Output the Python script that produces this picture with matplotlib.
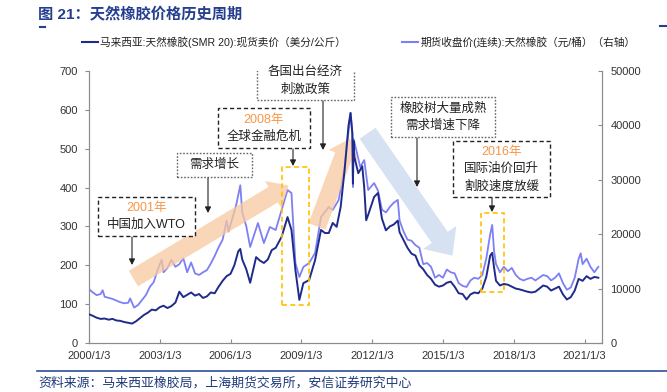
import matplotlib
matplotlib.use("Agg")
import matplotlib.pyplot as plt
import matplotlib.dates as mdates
from matplotlib.patches import Rectangle
from matplotlib.lines import Line2D
import pandas as pd

plt.rcParams['font.family'] = ['Liberation Sans', 'Noto Sans CJK SC', 'DejaVu Sans']

# ---------------- data ----------------
smr_dates = ["2000-01-03", "2000-03", "2000-05", "2000-07", "2000-09", "2000-11",
             "2001-01", "2001-03", "2001-05", "2001-07", "2001-09", "2001-11",
             "2002-01", "2002-03", "2002-05", "2002-07", "2002-09", "2002-11",
             "2003-01", "2003-03", "2003-05", "2003-07", "2003-09", "2003-11",
             "2004-01", "2004-03", "2004-05", "2004-07", "2004-09", "2004-11",
             "2005-01", "2005-03", "2005-05", "2005-07", "2005-09", "2005-11",
             "2006-01", "2006-03", "2006-05", "2006-06", "2006-07", "2006-09", "2006-11",
             "2007-02", "2007-04", "2007-06", "2007-08", "2007-10", "2007-12",
             "2008-03", "2008-06", "2008-08", "2008-10", "2008-12",
             "2009-02", "2009-05", "2009-08", "2009-11", "2010-01", "2010-03",
             "2010-05", "2010-07", "2010-09", "2010-11", "2011-01", "2011-02",
             "2011-03-01", "2011-03-10", "2011-03-20", "2011-04", "2011-06", "2011-08",
             "2011-09", "2011-10", "2011-11", "2012-02", "2012-04", "2012-06",
             "2012-08", "2012-10", "2012-12", "2013-02", "2013-03", "2013-05", "2013-07",
             "2013-09", "2013-11", "2014-01", "2014-03", "2014-05", "2014-07", "2014-09",
             "2014-11", "2015-01", "2015-03", "2015-05", "2015-07", "2015-09", "2015-11",
             "2016-01", "2016-03", "2016-05", "2016-07", "2016-09", "2016-11", "2017-01",
             "2017-02", "2017-03", "2017-04", "2017-06", "2017-08", "2017-10", "2017-12",
             "2018-02", "2018-04", "2018-06", "2018-08", "2018-10", "2018-12", "2019-02",
             "2019-04", "2019-06", "2019-08", "2019-10", "2019-12", "2020-02", "2020-04",
             "2020-06", "2020-08", "2020-10", "2020-12", "2021-02", "2021-04", "2021-06",
             "2021-08"]
smr_values = [74, 70, 65, 62, 63, 60,
              62, 58, 57, 54, 52, 50,
              56, 64, 72, 78, 86, 84,
              92, 96, 90, 95, 104, 132,
              118, 124, 130, 122, 126, 116,
              120, 130, 128, 145, 160, 172,
              178, 200, 236, 242, 215, 190, 155,
              221, 212, 206, 215, 239, 245,
              273, 324, 291, 188, 111,
              154, 162, 213, 291, 283, 283,
              309, 299, 350, 445, 560, 592,
              540, 410, 520, 479, 437, 455,
              400, 316, 330, 376, 386, 320,
              290, 300, 305, 315, 285, 265, 245,
              230, 225, 200, 190, 175, 165, 150,
              145, 148, 155, 158, 145, 128, 126,
              112, 125, 130, 128, 140, 170, 225,
              232, 195, 160, 148, 152, 150, 145,
              140, 138, 135, 132, 130, 132, 140,
              148, 145, 135, 140, 145, 125, 112,
              118, 135, 165, 160, 172, 165, 170,
              168]

fut_dates = ["2000-01-03", "2000-03", "2000-05", "2000-07", "2000-08", "2000-09", "2000-11",
             "2001-01", "2001-03", "2001-05", "2001-07", "2001-09", "2001-10", "2001-12",
             "2002-02", "2002-04", "2002-06", "2002-08", "2002-10", "2002-12",
             "2003-02", "2003-03", "2003-05", "2003-07", "2003-09", "2003-11",
             "2004-01", "2004-03", "2004-05", "2004-07", "2004-09", "2004-11",
             "2005-01", "2005-03", "2005-05", "2005-07", "2005-09", "2005-11", "2005-12",
             "2006-02", "2006-04", "2006-06", "2006-07", "2006-09", "2006-11",
             "2007-03", "2007-06", "2007-09", "2007-12", "2008-03", "2008-06",
             "2008-08", "2008-10", "2008-12", "2009-02", "2009-05", "2009-08",
             "2009-11", "2010-03", "2010-05", "2010-08", "2010-11", "2011-02",
             "2011-03-01", "2011-03-10", "2011-03-20", "2011-05", "2011-07", "2011-09",
             "2011-11", "2012-02", "2012-04", "2012-06",
             "2012-08", "2012-10", "2012-12", "2013-02", "2013-03", "2013-05", "2013-07",
             "2013-09", "2013-11", "2014-01", "2014-03", "2014-05", "2014-07", "2014-09",
             "2014-11", "2015-01", "2015-03", "2015-05", "2015-07", "2015-09", "2015-11",
             "2016-01", "2016-03", "2016-05", "2016-07", "2016-09", "2016-11", "2017-01",
             "2017-02", "2017-03", "2017-04", "2017-06", "2017-08", "2017-10", "2017-12",
             "2018-02", "2018-04", "2018-06", "2018-08", "2018-10", "2018-12", "2019-02",
             "2019-04", "2019-06", "2019-08", "2019-10", "2019-12", "2020-02", "2020-04",
             "2020-06", "2020-08", "2020-10", "2020-11", "2020-12", "2021-02", "2021-04",
             "2021-06", "2021-08"]
fut_values = [9900, 9300, 8800, 9000, 9700, 8500, 8300,
              8100, 7800, 7500, 7300, 7400, 8200, 6500,
              7000, 7900, 8800, 10300, 11200, 13500,
              15300, 13000, 13800, 15300, 14000, 14500,
              15600, 13000, 14800, 12800, 12500, 13000,
              13400, 14600, 16000, 17600, 19000, 22500, 20500,
              23000, 25500, 29000, 24000, 21500, 17650,
              22050, 18380, 21320, 20770, 24450, 28120,
              27570, 14700, 12130, 13970, 14700, 16540,
              23160, 25000, 24450, 26280, 32350, 42300,
              38500, 28670, 37500, 35470, 32350, 33630,
              28120, 29400, 28000, 24500,
              24000, 25000, 25800, 26300, 22500, 20500, 19000,
              18800, 18000, 17500, 14500, 14700, 14000, 12000,
              12500, 12000, 13500, 13000, 12800, 11000, 10500,
              10300, 11500, 12000, 11800, 12500, 15500, 20000,
              21700, 17000, 14500, 13000, 14000, 13200, 13800,
              12500, 11800, 11500, 11800, 12000, 11500, 12000,
              12500, 12300, 11500, 12000, 12800, 11000, 9800,
              10200, 12000, 15500, 16500, 14500, 15500, 14000,
              13000, 14000]

xtick_labels = ["2000/1/3", "2003/1/3", "2006/1/3", "2009/1/3",
                "2012/1/3", "2015/1/3", "2018/1/3", "2021/1/3"]

series1_name = "马来西亚:天然橡胶(SMR 20):现货卖价（美分/公斤）"
series2_name = "期货收盘价(连续):天然橡胶（元/桶）（右轴）"
title = "图 21：天然橡胶价格历史周期"
source = "资料来源：马来西亚橡胶局，上海期货交易所，安信证券研究中心"

# ---------------- figure ----------------
W, H = 667, 392
fig = plt.figure(figsize=(W / 100, H / 100), dpi=100)
ax = fig.add_axes([89 / W, 1 - 343 / H, (602 - 89) / W, (343 - 71) / H])
ax2 = ax.twinx()

DARK = "#1f2b8c"
LIGHT = "#7d7ff5"

sd = pd.to_datetime(smr_dates, format="mixed")
fd = pd.to_datetime(fut_dates, format="mixed")
ax2.plot(fd, fut_values, color=LIGHT, lw=1.3, zorder=3)
ax.plot(sd, smr_values, color=DARK, lw=1.4, zorder=4)
ax.set_zorder(ax2.get_zorder() + 1)
ax.patch.set_visible(False)

ax.set_ylim(0, 700)
ax2.set_ylim(0, 50000)
ax.set_yticks(range(0, 701, 100))
ax2.set_yticks(range(0, 50001, 10000))
ax.set_xlim(pd.Timestamp("2000-01-03"), pd.Timestamp("2021-09-27"))
xt = pd.to_datetime([l.replace("/", "-") for l in xtick_labels], format="%Y-%m-%d")
ax.set_xticks(xt)
ax.set_xticklabels(xtick_labels)

spine_c = "#8c8c8c"
for a in (ax, ax2):
    for s in a.spines.values():
        s.set_color(spine_c)
    a.spines['top'].set_visible(False)
ax.tick_params(axis='y', direction='out', length=3, color=spine_c, labelsize=8, labelcolor="#333333", pad=5)
ax.tick_params(axis='x', direction='in', length=3, color=spine_c, labelsize=8, labelcolor="#333333", pad=6)
ax2.tick_params(axis='y', direction='in', length=3, color=spine_c, labelsize=8, labelcolor="#333333", pad=6)

inv = ax.transData.inverted()


def px(x, y):
    """figure pixel (from top-left) -> data coords of ax"""
    return tuple(inv.transform((x, H - y)))


# big trend arrows (annotation decorations, placed in figure pixels)
ORANGE_A = "#f9c9a0"
BLUE_A = "#c9d8ee"
ax.annotate("", xy=px(291, 184), xytext=px(131, 280),
            arrowprops=dict(arrowstyle="simple,head_length=1.3,head_width=2.3,tail_width=1.3",
                            fc=ORANGE_A, ec="none", alpha=0.75), zorder=1)
ax.annotate("", xy=px(351, 136), xytext=px(316, 229),
            arrowprops=dict(arrowstyle="simple,head_length=1.3,head_width=2.3,tail_width=1.3",
                            fc=ORANGE_A, ec="none", alpha=0.75), zorder=1)
ax.annotate("", xy=px(454, 258), xytext=px(366, 131),
            arrowprops=dict(arrowstyle="simple,head_length=1.6,head_width=2.9,tail_width=1.4",
                            fc=BLUE_A, ec="none", alpha=0.75), zorder=1)

# yellow dashed boxes
for x0, y0, x1, y1 in [(282, 167, 309, 305), (481, 213, 504, 292)]:
    (dx0, dy1) = px(x0, y1)
    (dx1, dy0) = px(x1, y0)
    ax.add_patch(Rectangle((dx0, dy1), dx1 - dx0, dy0 - dy1, fill=False, ec="#ffc000",
                           ls=(0, (3, 2)), lw=1.2, zorder=5))

TXT = "#222222"
ORANGE_T = "#f79646"


def box_text(x0, y0, x1, y1, lines, dark=True):
    ls = (0, (3, 2)) if dark else (0, (1.2, 1.2))
    ec = "#222222" if dark else "#666666"
    (dx0, dyb) = px(x0, y1)
    (dx1, dyt) = px(x1, y0)
    ax.add_patch(Rectangle((dx0, dyb), dx1 - dx0, dyt - dyb, fc="white", ec=ec, ls=ls,
                           lw=1.0, zorder=7))
    n = len(lines)
    xc = (x0 + x1) / 2
    yc = (y0 + y1) / 2
    for i, (s, c) in enumerate(lines):
        yy = yc + (i - (n - 1) / 2) * 17
        ax.text(*px(xc, yy), s, ha="center", va="center", fontsize=9, color=c, zorder=8)


box_text(98, 197, 195, 236, [("2001年", ORANGE_T), ("中国加入WTO", TXT)], dark=True)
box_text(177, 153, 252, 177, [("需求增长", TXT)], dark=False)
box_text(218, 108, 310, 148, [("2008年", ORANGE_T), ("全球金融危机", TXT)], dark=True)
box_text(257, 62, 354, 100, [("各国出台经济", TXT), ("刺激政策", TXT)], dark=False)
box_text(391, 97, 495, 137, [("橡胶树大量成熟", TXT), ("需求增速下降", TXT)], dark=False)
box_text(453, 141, 550, 197, [("2016年", ORANGE_T), ("国际油价回升", TXT), ("割胶速度放缓", TXT)], dark=True)

# small black pointer arrows
for xv, y0, y1 in [(132, 237, 265), (208, 178, 213), (293, 149, 166),
                   (323, 101, 150), (417, 138, 187), (492, 198, 212)]:
    ax.annotate("", xy=px(xv, y1), xytext=px(xv, y0),
                arrowprops=dict(arrowstyle="-|>,head_length=0.35,head_width=0.18",
                                color="#222222", lw=0.8, shrinkA=0, shrinkB=0), zorder=8)

# title & decorations
BLUE_T = "#253f8e"
fig.text(38 / W, 1 - 14 / H, title, fontsize=11, fontweight="bold",
         color=BLUE_T, va="center", ha="left")
fig.add_artist(Line2D([40 / W, 45 / W], [1 - 27 / H, 1 - 27 / H], color=BLUE_T, lw=1.5))
fig.add_artist(Line2D([660 / W, 667 / W], [1 - 26 / H, 1 - 26 / H], color=BLUE_T, lw=1.5))

# legend
fig.add_artist(Line2D([82 / W, 98 / W], [1 - 42 / H, 1 - 42 / H], color=DARK, lw=1.5))
fig.text(100 / W, 1 - 42 / H, series1_name, fontsize=7.7, color="#222222", va="center", ha="left")
fig.add_artist(Line2D([402 / W, 418 / W], [1 - 42 / H, 1 - 42 / H], color=LIGHT, lw=1.5))
fig.text(421 / W, 1 - 42 / H, series2_name, fontsize=7.7, color="#222222", va="center", ha="left")

# bottom rule & source
fig.add_artist(Line2D([37 / W, 667 / W], [1 - 371 / H, 1 - 371 / H], color="#2f4f9e", lw=1.2))
fig.text(38 / W, 1 - 383 / H, source, fontsize=9.3, color="#1f3a7a", va="center", ha="left",
         style="italic")

fig.savefig("out.png", dpi=100)
